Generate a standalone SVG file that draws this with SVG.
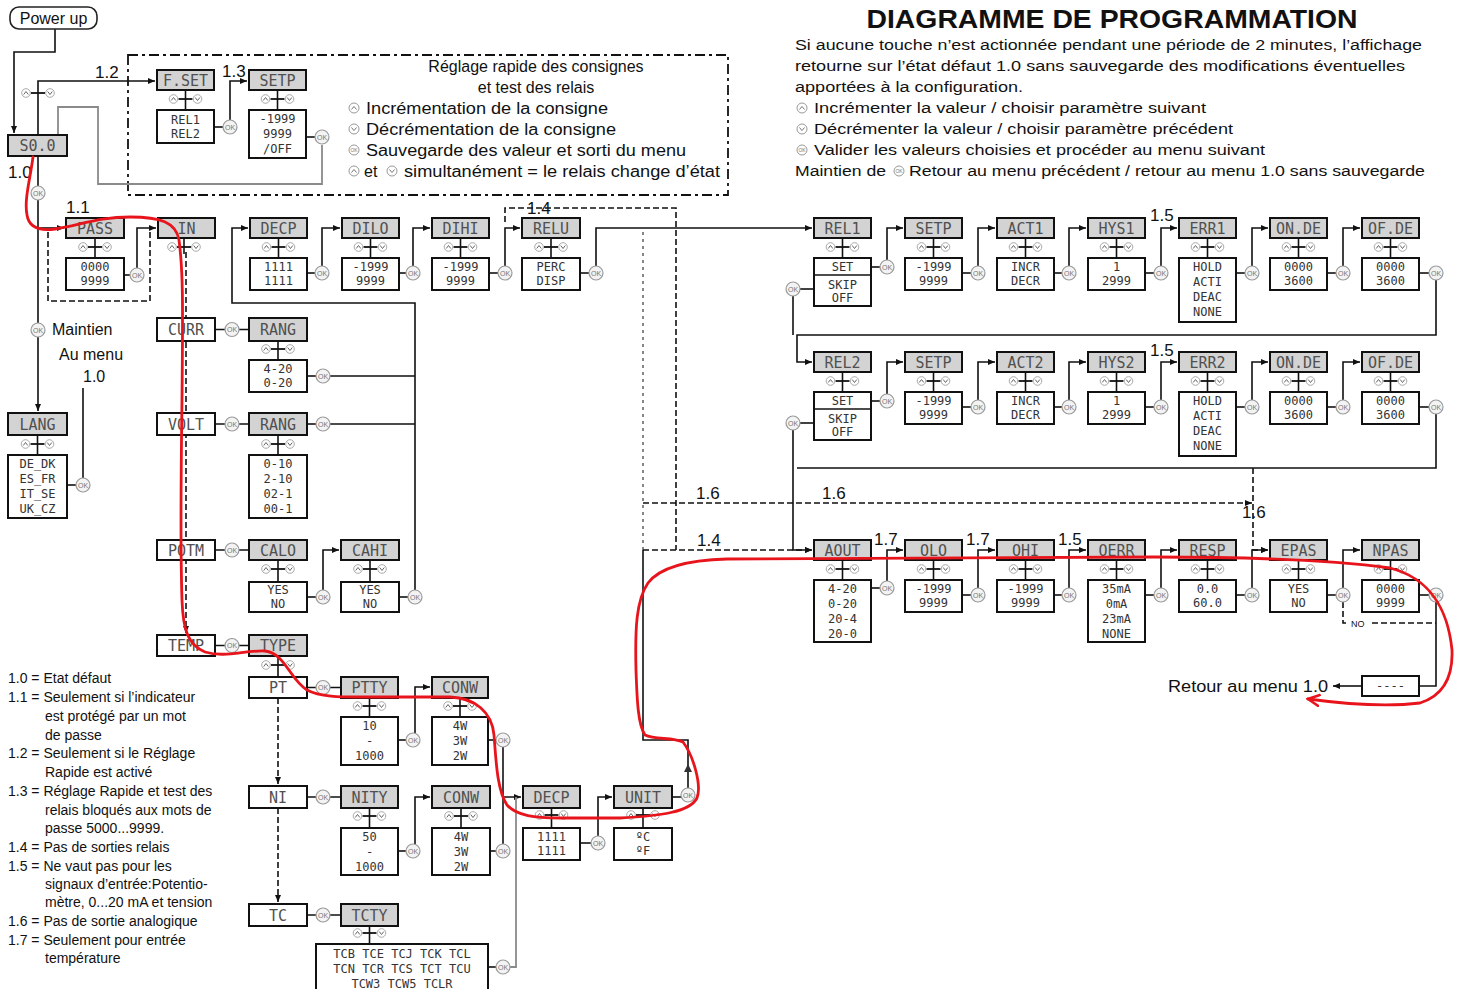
<svg xmlns="http://www.w3.org/2000/svg" xmlns:xlink="http://www.w3.org/1999/xlink" width="1458" height="989" viewBox="0 0 1458 989">
<style>
.h{fill:#d3d3d3;stroke:#111;stroke-width:2}
.v{fill:#fff;stroke:#111;stroke-width:2}
.l{font-family:"DejaVu Sans Mono","Liberation Mono",monospace;font-size:15px;fill:#505050;text-anchor:middle}
.s{font-family:"DejaVu Sans Mono","Liberation Mono",monospace;font-size:12px;fill:#333;text-anchor:middle}
.ln{fill:none;stroke:#111;stroke-width:1.6}
.gl{fill:none;stroke:#8a8a8a;stroke-width:1.8}
.ds{fill:none;stroke:#111;stroke-width:1.6;stroke-dasharray:6 3}
.dd{fill:none;stroke:#111;stroke-width:1.8;stroke-dasharray:10 4 3 4}
.dt{fill:none;stroke:#555;stroke-width:1.4;stroke-dasharray:3 4}
.t{font-family:"Liberation Sans",Arial,sans-serif;fill:#111}
.n{font-family:"Liberation Sans",Arial,sans-serif;font-size:14px;fill:#111}
.lb{font-family:"Liberation Sans",Arial,sans-serif;font-size:17px;fill:#111}
</style>
<defs>
<marker id="a" markerWidth="8" markerHeight="8" refX="7" refY="4" orient="auto" markerUnits="userSpaceOnUse"><path d="M0,1 L7,4 L0,7z" fill="#111"/></marker>
<marker id="ra" markerWidth="14" markerHeight="14" refX="12" refY="7" orient="auto" markerUnits="userSpaceOnUse"><path d="M0,1 L12,7 L0,13" fill="none" stroke="#e8141c" stroke-width="2.6"/></marker>
<g id="ud"><path d="M-7,0 H7" stroke="#111" stroke-width="1.8"/><circle cx="-12" cy="0" r="4.3" fill="#fff" stroke="#aaa" stroke-width="1"/><path d="M-14.3,1.5 L-12,-1.5 L-9.7,1.5" stroke="#666" fill="none" stroke-width="1"/><circle cx="12" cy="0" r="4.3" fill="#fff" stroke="#aaa" stroke-width="1"/><path d="M9.7,-1.5 L12,1.5 L14.3,-1.5" stroke="#666" fill="none" stroke-width="1"/></g>
<g id="ok"><circle r="7" fill="#f3f3f3" stroke="#9a9a9a" stroke-width="1.2"/><text y="2.5" font-size="7" text-anchor="middle" fill="#777" font-family="Liberation Sans,Arial,sans-serif">OK</text></g>
<g id="iu"><circle r="5" fill="#fff" stroke="#999" stroke-width="1"/><path d="M-2.5,1.5 L0,-1.5 L2.5,1.5" stroke="#777" fill="none"/></g>
<g id="id"><circle r="5" fill="#fff" stroke="#999" stroke-width="1"/><path d="M-2.5,-1.5 L0,1.5 L2.5,-1.5" stroke="#777" fill="none"/></g>
<g id="io"><circle r="5" fill="#fff" stroke="#999" stroke-width="1"/><text y="2" font-size="5" text-anchor="middle" fill="#777" font-family="Liberation Sans,Arial,sans-serif">OK</text></g>
</defs>
<rect width="1458" height="989" fill="#fff"/>

<g id="title">
<text class="t" x="1112" y="28" font-size="26" font-weight="bold" text-anchor="middle" textLength="491" lengthAdjust="spacingAndGlyphs">DIAGRAMME DE PROGRAMMATION</text>
<text class="t" x="795" y="50" font-size="15.5" textLength="627" lengthAdjust="spacingAndGlyphs">Si aucune touche n’est actionnée pendant une période de 2 minutes, l’affichage</text>
<text class="t" x="795" y="71" font-size="15.5" textLength="610" lengthAdjust="spacingAndGlyphs">retourne sur l’état défaut 1.0 sans sauvegarde des modifications éventuelles</text>
<text class="t" x="795" y="92" font-size="15.5" textLength="228" lengthAdjust="spacingAndGlyphs">apportées à la configuration.</text>
<use xlink:href="#iu" x="802" y="108"/>
<text class="t" x="814" y="113" font-size="15.5" textLength="392" lengthAdjust="spacingAndGlyphs">Incrémenter la valeur / choisir  paramètre suivant</text>
<use xlink:href="#id" x="802" y="129"/>
<text class="t" x="814" y="134" font-size="15.5" textLength="419" lengthAdjust="spacingAndGlyphs">Décrémenter la valeur / choisir paramètre précédent</text>
<use xlink:href="#io" x="802" y="150"/>
<text class="t" x="814" y="155" font-size="15.5" textLength="451" lengthAdjust="spacingAndGlyphs">Valider les valeurs choisies et procéder au menu suivant</text>
<text class="t" x="795" y="176" font-size="15.5" textLength="91" lengthAdjust="spacingAndGlyphs">Maintien de</text>
<use xlink:href="#io" x="899" y="171"/>
<text class="t" x="909" y="176" font-size="15.5" textLength="516" lengthAdjust="spacingAndGlyphs">Retour au menu précédent / retour au menu 1.0 sans sauvegarde</text>
</g>

<g id="quickbox">
<rect class="dd" x="128" y="55" width="600" height="140"/>
<text class="t" x="536" y="72" font-size="16" text-anchor="middle">Réglage rapide des consignes</text>
<text class="t" x="536" y="93" font-size="16" text-anchor="middle">et test des relais</text>
<use xlink:href="#iu" x="354" y="108"/>
<text class="t" x="366" y="114" font-size="16" textLength="242" lengthAdjust="spacingAndGlyphs">Incrémentation de la consigne</text>
<use xlink:href="#id" x="354" y="129"/>
<text class="t" x="366" y="135" font-size="16" textLength="250" lengthAdjust="spacingAndGlyphs">Décrémentation de la consigne</text>
<use xlink:href="#io" x="354" y="150"/>
<text class="t" x="366" y="156" font-size="16" textLength="320" lengthAdjust="spacingAndGlyphs">Sauvegarde des valeur et sorti du menu</text>
<use xlink:href="#iu" x="354" y="171"/>
<text class="t" x="364" y="177" font-size="16">et</text>
<use xlink:href="#id" x="392" y="171"/>
<text class="t" x="404" y="177" font-size="16" textLength="316" lengthAdjust="spacingAndGlyphs">simultanément = le relais change d’état</text>
</g>

<g id="notes">
<text class="n" x="8" y="683">1.0 = Etat défaut</text>
<text class="n" x="8" y="702">1.1 = Seulement si l’indicateur</text>
<text class="n" x="45" y="721">est protégé par un mot</text>
<text class="n" x="45" y="740">de passe</text>
<text class="n" x="8" y="758">1.2 = Seulement si le Réglage</text>
<text class="n" x="45" y="777">Rapide est activé</text>
<text class="n" x="8" y="796">1.3 = Réglage Rapide et test des</text>
<text class="n" x="45" y="815">relais bloqués aux mots de</text>
<text class="n" x="45" y="833">passe 5000...9999.</text>
<text class="n" x="8" y="852">1.4 = Pas de sorties relais</text>
<text class="n" x="8" y="871">1.5 = Ne vaut pas pour les</text>
<text class="n" x="45" y="889">signaux d’entrée:Potentio-</text>
<text class="n" x="45" y="907">mètre, 0...20 mA et tension</text>
<text class="n" x="8" y="926">1.6 = Pas de sortie analogique</text>
<text class="n" x="8" y="945">1.7 = Seulement pour entrée</text>
<text class="n" x="45" y="963">température</text>
</g>

<g id="connectors">
<path class="ln" d="M55,29 V52 H14 V133" marker-end="url(#a)"/>
<path class="ln" d="M38,135 V81 H155" marker-end="url(#a)"/>
<path class="gl" d="M58,135 V107 H98 V184 H322 V145"/>
<path class="ln" d="M38,156 V186"/>
<path class="ln" d="M230,120 V81 H247" marker-end="url(#a)"/>
<path class="ln" d="M38,200 V323 M38,337 V411" marker-end="url(#a)"/>
<path class="ln" d="M38,228 H64" marker-end="url(#a)"/>
<path class="ds" d="M48,232 V301 H150 V232"/>
<path class="ln" d="M137,268 V228 H156" marker-end="url(#a)"/>
<path class="ds" d="M186,252 V633" marker-end="url(#a)"/>
<path class="ln" d="M415,590 V303 H232 V228 H248" marker-end="url(#a)"/>
<path class="ln" d="M330,376 H415 M330,424 H415"/>
<path class="ln" d="M322,266 V228 H340" marker-end="url(#a)"/>
<path class="ln" d="M413,266 V228 H430" marker-end="url(#a)"/>
<path class="ln" d="M505,266 V228 H520" marker-end="url(#a)"/>
<path class="ln" d="M596,266 V228 H812" marker-end="url(#a)"/>
<path class="ds" d="M505,222 V208 H676 V550"/>
<path class="dt" d="M643,550 V228"/>
<path class="ln" d="M688,788 V740 H643 V550" stroke="#444"/>
<path class="ds" d="M643,550 H812" marker-end="url(#a)"/>
<path class="ds" d="M643,503 H1252" marker-end="url(#a)"/>
<path class="ds" d="M1253,468 V550 H1268" marker-end="url(#a)"/>
<path class="ln" d="M887,260 V228 H903" marker-end="url(#a)"/>
<path class="ln" d="M978,266 V228 H995" marker-end="url(#a)"/>
<path class="ln" d="M1069,266 V228 H1086" marker-end="url(#a)"/>
<path class="ln" d="M1161,266 V228 H1177" marker-end="url(#a)"/>
<path class="ln" d="M1252,266 V228 H1268" marker-end="url(#a)"/>
<path class="ln" d="M1343,266 V228 H1360" marker-end="url(#a)"/>
<path class="ln" d="M1436,280 V335 H797 V362 H812" marker-end="url(#a)"/>
<path class="ln" d="M793,296 V335"/>
<path class="ln" d="M887,394 V362 H903" marker-end="url(#a)"/>
<path class="ln" d="M978,400 V362 H995" marker-end="url(#a)"/>
<path class="ln" d="M1069,400 V362 H1086" marker-end="url(#a)"/>
<path class="ln" d="M1161,400 V362 H1177" marker-end="url(#a)"/>
<path class="ln" d="M1252,400 V362 H1268" marker-end="url(#a)"/>
<path class="ln" d="M1343,400 V362 H1360" marker-end="url(#a)"/>
<path class="ln" d="M1436,414 V468 H797"/>
<path class="ln" d="M793,430 V550 H812" marker-end="url(#a)"/>
<path class="ln" d="M887,581 V550 H903" marker-end="url(#a)"/>
<path class="ln" d="M978,588 V550 H995" marker-end="url(#a)"/>
<path class="ln" d="M1069,588 V550 H1086" marker-end="url(#a)"/>
<path class="ln" d="M1161,588 V550 H1177" marker-end="url(#a)"/>
<path class="ln" d="M1252,588 V550 H1268" marker-end="url(#a)"/>
<path class="ln" d="M1343,588 V550 H1360" marker-end="url(#a)"/>
<path class="ds" d="M1343,602 V623 H1349 M1372,623 H1436"/>
<path class="ln" d="M1436,602 V686 H1420"/>
<path class="ln" d="M1362,686 H1333" marker-end="url(#a)"/>
<path class="ln" d="M323,590 V550 H339" marker-end="url(#a)"/>
<path class="ln" d="M83,478 V388"/>
<path class="ln" d="M415,733 V687 H430" marker-end="url(#a)"/>
<path class="ln" d="M503,747 V797 H521" marker-end="url(#a)"/>
<path class="ds" d="M278,698 V784" marker-end="url(#a)"/>
<path class="ds" d="M278,808 V902" marker-end="url(#a)"/>
<path class="ln" d="M415,844 V797 H430" marker-end="url(#a)"/>
<path class="ln" d="M503,844 V797"/>
<path class="ln" d="M598,836 V797 H612" marker-end="url(#a)"/>
<path class="gl" d="M510,967 H516 V797"/>
<path d="M684,772 L688,764 L692,772z" fill="#333"/>
</g>

<g id="labels">
<text class="lb" x="8" y="178">1.0</text>
<text class="lb" x="95" y="78">1.2</text>
<text class="lb" x="222" y="77">1.3</text>
<text class="lb" x="66" y="213">1.1</text>
<text class="lb" x="527" y="214">1.4</text>
<text class="t" x="52" y="335" font-size="16">Maintien</text>
<text class="t" x="59" y="360" font-size="16">Au menu</text>
<text class="t" x="83" y="382" font-size="16">1.0</text>
<text class="lb" x="1150" y="221">1.5</text>
<text class="lb" x="1150" y="356">1.5</text>
<text class="lb" x="696" y="499">1.6</text>
<text class="lb" x="822" y="499">1.6</text>
<text class="lb" x="1242" y="518">1.6</text>
<text class="lb" x="697" y="546">1.4</text>
<text class="lb" x="874" y="545">1.7</text>
<text class="lb" x="966" y="545">1.7</text>
<text class="lb" x="1058" y="545">1.5</text>
<text class="t" x="1351" y="627" font-size="9">NO</text>
<text class="t" x="1168" y="692" font-size="16" textLength="160" lengthAdjust="spacingAndGlyphs">Retour au menu 1.0</text>
</g>

<g id="powerup"><rect x="10" y="7" width="87" height="22" rx="9" fill="#fff" stroke="#222" stroke-width="1.6"/><text class="t" x="53.5" y="24" font-size="16" text-anchor="middle">Power up</text></g>
<g id="s00"><rect class="h" x="8" y="135" width="59" height="21"/><text class="l" x="37.5" y="151">S0.0</text><use xlink:href="#ud" x="38" y="93"/><use xlink:href="#ok" x="38" y="193"/></g>
<g id="fset"><rect class="h" x="157" y="70" width="57" height="20"/><text class="l" x="185.5" y="85.5">F.SET</text><path class="ln" d="M185.5,90 V110"/><use xlink:href="#ud" x="185.5" y="99"/><rect class="v" x="157" y="110" width="57" height="33"/><text class="s" x="185.5" y="124">REL1</text><text class="s" x="185.5" y="138">REL2</text><path class="ln" d="M214,127 H223"/><use xlink:href="#ok" x="230" y="127"/></g>
<g id="setp0"><rect class="h" x="249" y="70" width="57" height="20"/><text class="l" x="277.5" y="85.5">SETP</text><path class="ln" d="M277.5,90 V110"/><use xlink:href="#ud" x="277.5" y="99"/><rect class="v" x="249" y="110" width="57" height="48"/><text class="s" x="277.5" y="123">-1999</text><text class="s" x="277.5" y="138">9999</text><text class="s" x="277.5" y="153">/OFF</text><path class="ln" d="M306,137 H315"/><use xlink:href="#ok" x="322" y="137"/></g>

<g id="pass"><rect class="h" x="66" y="218" width="58" height="20"/><text class="l" x="95" y="233.5">PASS</text><path class="ln" d="M95,238 V258"/><use xlink:href="#ud" x="95" y="247"/><rect class="v" x="66" y="258" width="58" height="32"/><text class="s" x="95" y="271">0000</text><text class="s" x="95" y="285">9999</text><path class="ln" d="M124,275 H130"/><use xlink:href="#ok" x="137" y="275"/></g>
<g id="in"><rect class="h" x="158" y="218" width="57" height="20"/><text class="l" x="186.5" y="233.5">IN</text><path class="ln" d="M184,238 V254"/><use xlink:href="#ud" x="184" y="247"/></g>
<g id="decp1"><rect class="h" x="250" y="218" width="57" height="20"/><text class="l" x="278.5" y="233.5">DECP</text><path class="ln" d="M278.5,238 V258"/><use xlink:href="#ud" x="278.5" y="247"/><rect class="v" x="250" y="258" width="57" height="32"/><text class="s" x="278.5" y="271">1111</text><text class="s" x="278.5" y="285">1111</text><path class="ln" d="M307,273 H315"/><use xlink:href="#ok" x="322" y="273"/></g>
<g id="dilo"><rect class="h" x="342" y="218" width="57" height="20"/><text class="l" x="370.5" y="233.5">DILO</text><path class="ln" d="M370.5,238 V258"/><use xlink:href="#ud" x="370.5" y="247"/><rect class="v" x="342" y="258" width="57" height="32"/><text class="s" x="370.5" y="271">-1999</text><text class="s" x="370.5" y="285">9999</text><path class="ln" d="M399,273 H406"/><use xlink:href="#ok" x="413" y="273"/></g>
<g id="dihi"><rect class="h" x="432" y="218" width="57" height="20"/><text class="l" x="460.5" y="233.5">DIHI</text><path class="ln" d="M460.5,238 V258"/><use xlink:href="#ud" x="460.5" y="247"/><rect class="v" x="432" y="258" width="57" height="32"/><text class="s" x="460.5" y="271">-1999</text><text class="s" x="460.5" y="285">9999</text><path class="ln" d="M489,273 H498"/><use xlink:href="#ok" x="505" y="273"/></g>
<g id="relu"><rect class="h" x="522" y="218" width="58" height="20"/><text class="l" x="551" y="233.5">RELU</text><path class="ln" d="M551,238 V258"/><use xlink:href="#ud" x="551" y="247"/><rect class="v" x="522" y="258" width="58" height="32"/><text class="s" x="551" y="271">PERC</text><text class="s" x="551" y="285">DISP</text><path class="ln" d="M580,273 H589"/><use xlink:href="#ok" x="596" y="273"/></g>

<g id="lang"><use xlink:href="#ok" x="38" y="330"/><rect class="h" x="8" y="413" width="59" height="22"/><text class="l" x="37.5" y="429.5">LANG</text><path class="ln" d="M37.5,435 V455"/><use xlink:href="#ud" x="37.5" y="444"/><rect class="v" x="8" y="455" width="59" height="63"/><text class="s" x="37.5" y="468">DE_DK</text><text class="s" x="37.5" y="483">ES_FR</text><text class="s" x="37.5" y="498">IT_SE</text><text class="s" x="37.5" y="513">UK_CZ</text><path class="ln" d="M67,485 H76"/><use xlink:href="#ok" x="83" y="485"/></g>

<g id="curr"><rect class="v" x="157" y="318" width="58" height="23"/><text class="l" x="186" y="335">CURR</text><path class="ln" d="M215,329.5 H249"/><use xlink:href="#ok" x="232" y="329.5"/></g>
<g id="rang1"><rect class="h" x="249" y="318" width="58" height="23"/><text class="l" x="278" y="335">RANG</text><path class="ln" d="M278,341 V360"/><use xlink:href="#ud" x="278" y="349"/><rect class="v" x="249" y="360" width="58" height="32"/><text class="s" x="278" y="373">4-20</text><text class="s" x="278" y="387">0-20</text><path class="ln" d="M307,376 H316"/><use xlink:href="#ok" x="323" y="376"/></g>
<g id="volt"><rect class="v" x="157" y="413" width="58" height="22"/><text class="l" x="186" y="429.5">VOLT</text><path class="ln" d="M215,424 H249"/><use xlink:href="#ok" x="232" y="424"/></g>
<g id="rang2"><rect class="h" x="249" y="413" width="58" height="22"/><text class="l" x="278" y="429.5">RANG</text><path class="ln" d="M307,424 H316"/><use xlink:href="#ok" x="323" y="424"/><path class="ln" d="M278,435 V455"/><use xlink:href="#ud" x="278" y="444"/><rect class="v" x="249" y="455" width="58" height="63"/><text class="s" x="278" y="468">0-10</text><text class="s" x="278" y="483">2-10</text><text class="s" x="278" y="498">02-1</text><text class="s" x="278" y="513">00-1</text></g>
<g id="potm"><rect class="v" x="157" y="540" width="58" height="20"/><text class="l" x="186" y="555.5">POTM</text><path class="ln" d="M215,550 H249"/><use xlink:href="#ok" x="232" y="550"/></g>
<g id="calo"><rect class="h" x="249" y="540" width="58" height="20"/><text class="l" x="278" y="555.5">CALO</text><path class="ln" d="M278,560 V582"/><use xlink:href="#ud" x="278" y="569"/><rect class="v" x="249" y="582" width="58" height="30"/><text class="s" x="278" y="594">YES</text><text class="s" x="278" y="608">NO</text><path class="ln" d="M307,597 H316"/><use xlink:href="#ok" x="323" y="597"/></g>
<g id="cahi"><rect class="h" x="341" y="540" width="58" height="20"/><text class="l" x="370" y="555.5">CAHI</text><path class="ln" d="M370,560 V582"/><use xlink:href="#ud" x="370" y="569"/><rect class="v" x="341" y="582" width="58" height="30"/><text class="s" x="370" y="594">YES</text><text class="s" x="370" y="608">NO</text><path class="ln" d="M399,597 H408"/><use xlink:href="#ok" x="415" y="597"/></g>
<g id="temp"><rect class="v" x="157" y="635" width="58" height="21"/><text class="l" x="186" y="651">TEMP</text><path class="ln" d="M215,645.5 H249"/><use xlink:href="#ok" x="232" y="645.5"/></g>
<g id="type"><rect class="h" x="249" y="635" width="58" height="21"/><text class="l" x="278" y="651">TYPE</text><path class="ln" d="M278,656 V677"/><use xlink:href="#ud" x="278" y="665"/></g>
<g id="pt"><rect class="v" x="249" y="677" width="58" height="21"/><text class="l" x="278" y="693">PT</text><path class="ln" d="M307,687.5 H341"/><use xlink:href="#ok" x="323" y="687.5"/></g>
<g id="ptty"><rect class="h" x="341" y="677" width="57" height="21"/><text class="l" x="369.5" y="693">PTTY</text><path class="ln" d="M369.5,698 V717"/><use xlink:href="#ud" x="369.5" y="706"/><rect class="v" x="341" y="717" width="57" height="48"/><text class="s" x="369.5" y="730">10</text><text class="s" x="369.5" y="745">-</text><text class="s" x="369.5" y="760">1000</text><path class="ln" d="M398,740 H406"/><use xlink:href="#ok" x="413" y="740"/></g>
<g id="conw1"><rect class="h" x="432" y="677" width="56" height="21"/><text class="l" x="460" y="693">CONW</text><path class="ln" d="M460,698 V717"/><use xlink:href="#ud" x="460" y="706"/><rect class="v" x="432" y="717" width="56" height="48"/><text class="s" x="460" y="730">4W</text><text class="s" x="460" y="745">3W</text><text class="s" x="460" y="760">2W</text><path class="ln" d="M488,740 H496"/><use xlink:href="#ok" x="503" y="740"/></g>
<g id="ni"><rect class="v" x="249" y="786" width="58" height="22"/><text class="l" x="278" y="802.5">NI</text><path class="ln" d="M307,797 H341"/><use xlink:href="#ok" x="323" y="797"/></g>
<g id="nity"><rect class="h" x="341" y="786" width="57" height="22"/><text class="l" x="369.5" y="802.5">NITY</text><path class="ln" d="M369.5,808 V828"/><use xlink:href="#ud" x="369.5" y="816"/><rect class="v" x="341" y="828" width="57" height="47"/><text class="s" x="369.5" y="841">50</text><text class="s" x="369.5" y="856">-</text><text class="s" x="369.5" y="871">1000</text><path class="ln" d="M398,851 H406"/><use xlink:href="#ok" x="413" y="851"/></g>
<g id="conw2"><rect class="h" x="432" y="786" width="58" height="22"/><text class="l" x="461" y="802.5">CONW</text><path class="ln" d="M461,808 V828"/><use xlink:href="#ud" x="461" y="816"/><rect class="v" x="432" y="828" width="58" height="47"/><text class="s" x="461" y="841">4W</text><text class="s" x="461" y="856">3W</text><text class="s" x="461" y="871">2W</text><path class="ln" d="M490,851 H496"/><use xlink:href="#ok" x="503" y="851"/></g>
<g id="decp2"><rect class="h" x="523" y="786" width="57" height="22"/><text class="l" x="551.5" y="802.5">DECP</text><path class="ln" d="M551.5,808 V828"/><use xlink:href="#ud" x="551.5" y="815"/><rect class="v" x="523" y="828" width="57" height="32"/><text class="s" x="551.5" y="841">1111</text><text class="s" x="551.5" y="855">1111</text><path class="ln" d="M580,843 H591"/><use xlink:href="#ok" x="598" y="843"/></g>
<g id="unit"><rect class="h" x="614" y="786" width="58" height="22"/><text class="l" x="643" y="802.5">UNIT</text><path class="ln" d="M643,808 V828"/><use xlink:href="#ud" x="643" y="815"/><rect class="v" x="614" y="828" width="58" height="32"/><text class="s" x="643" y="841">ºC</text><text class="s" x="643" y="855">ºF</text><path class="ln" d="M672,797 H681"/><use xlink:href="#ok" x="688" y="795"/></g>
<g id="tc"><rect class="v" x="249" y="904" width="58" height="22"/><text class="l" x="278" y="920.5">TC</text><path class="ln" d="M307,915 H341"/><use xlink:href="#ok" x="323" y="915"/></g>
<g id="tcty"><rect class="h" x="341" y="904" width="57" height="22"/><text class="l" x="369.5" y="920.5">TCTY</text><path class="ln" d="M369.5,926 V944"/><use xlink:href="#ud" x="369.5" y="933"/><rect class="v" x="316" y="944" width="172" height="52"/><text class="s" x="402" y="958">TCB TCE TCJ TCK TCL</text><text class="s" x="402" y="973">TCN TCR TCS TCT TCU</text><text class="s" x="402" y="988">TCW3 TCW5 TCLR</text><path class="ln" d="M488,967 H496"/><use xlink:href="#ok" x="503" y="967"/></g>

<g id="rel1"><rect class="h" x="814" y="218" width="57" height="20"/><text class="l" x="842.5" y="233.5">REL1</text><path class="ln" d="M842.5,238 V258"/><use xlink:href="#ud" x="842.5" y="247"/><rect class="v" x="814" y="258" width="57" height="48"/><path class="ln" d="M814,275 H871"/><text class="s" x="842.5" y="271">SET</text><text class="s" x="842.5" y="289">SKIP</text><text class="s" x="842.5" y="302">OFF</text><path class="ln" d="M871,267 H880"/><use xlink:href="#ok" x="887" y="267"/><path class="ln" d="M814,289 H800"/><use xlink:href="#ok" x="793" y="289"/></g>
<g id="setp1"><rect class="h" x="905" y="218" width="57" height="20"/><text class="l" x="933.5" y="233.5">SETP</text><path class="ln" d="M933.5,238 V258"/><use xlink:href="#ud" x="933.5" y="247"/><rect class="v" x="905" y="258" width="57" height="32"/><text class="s" x="933.5" y="271">-1999</text><text class="s" x="933.5" y="285">9999</text><path class="ln" d="M962,273 H971"/><use xlink:href="#ok" x="978" y="273"/></g>
<g id="act1"><rect class="h" x="997" y="218" width="57" height="20"/><text class="l" x="1025.5" y="233.5">ACT1</text><path class="ln" d="M1025.5,238 V258"/><use xlink:href="#ud" x="1025.5" y="247"/><rect class="v" x="997" y="258" width="57" height="32"/><text class="s" x="1025.5" y="271">INCR</text><text class="s" x="1025.5" y="285">DECR</text><path class="ln" d="M1054,273 H1062"/><use xlink:href="#ok" x="1069" y="273"/></g>
<g id="hys1"><rect class="h" x="1088" y="218" width="57" height="20"/><text class="l" x="1116.5" y="233.5">HYS1</text><path class="ln" d="M1116.5,238 V258"/><use xlink:href="#ud" x="1116.5" y="247"/><rect class="v" x="1088" y="258" width="57" height="32"/><text class="s" x="1116.5" y="271">1</text><text class="s" x="1116.5" y="285">2999</text><path class="ln" d="M1145,273 H1154"/><use xlink:href="#ok" x="1161" y="273"/></g>
<g id="err1"><rect class="h" x="1179" y="218" width="57" height="20"/><text class="l" x="1207.5" y="233.5">ERR1</text><path class="ln" d="M1207.5,238 V258"/><use xlink:href="#ud" x="1207.5" y="247"/><rect class="v" x="1179" y="258" width="57" height="64"/><text class="s" x="1207.5" y="271">HOLD</text><text class="s" x="1207.5" y="286">ACTI</text><text class="s" x="1207.5" y="301">DEAC</text><text class="s" x="1207.5" y="316">NONE</text><path class="ln" d="M1236,273 H1245"/><use xlink:href="#ok" x="1252" y="273"/></g>
<g id="onde1"><rect class="h" x="1270" y="218" width="57" height="20"/><text class="l" x="1298.5" y="233.5">ON.DE</text><path class="ln" d="M1298.5,238 V258"/><use xlink:href="#ud" x="1298.5" y="247"/><rect class="v" x="1270" y="258" width="57" height="32"/><text class="s" x="1298.5" y="271">0000</text><text class="s" x="1298.5" y="285">3600</text><path class="ln" d="M1327,273 H1336"/><use xlink:href="#ok" x="1343" y="273"/></g>
<g id="ofde1"><rect class="h" x="1362" y="218" width="57" height="20"/><text class="l" x="1390.5" y="233.5">OF.DE</text><path class="ln" d="M1390.5,238 V258"/><use xlink:href="#ud" x="1390.5" y="247"/><rect class="v" x="1362" y="258" width="57" height="32"/><text class="s" x="1390.5" y="271">0000</text><text class="s" x="1390.5" y="285">3600</text><path class="ln" d="M1419,273 H1429"/><use xlink:href="#ok" x="1436" y="273"/></g>

<g id="rel2"><rect class="h" x="814" y="352" width="57" height="20"/><text class="l" x="842.5" y="367.5">REL2</text><path class="ln" d="M842.5,372 V392"/><use xlink:href="#ud" x="842.5" y="381"/><rect class="v" x="814" y="392" width="57" height="48"/><path class="ln" d="M814,409 H871"/><text class="s" x="842.5" y="405">SET</text><text class="s" x="842.5" y="423">SKIP</text><text class="s" x="842.5" y="436">OFF</text><path class="ln" d="M871,401 H880"/><use xlink:href="#ok" x="887" y="401"/><path class="ln" d="M814,423 H800"/><use xlink:href="#ok" x="793" y="423"/></g>
<g id="setp2"><rect class="h" x="905" y="352" width="57" height="20"/><text class="l" x="933.5" y="367.5">SETP</text><path class="ln" d="M933.5,372 V392"/><use xlink:href="#ud" x="933.5" y="381"/><rect class="v" x="905" y="392" width="57" height="32"/><text class="s" x="933.5" y="405">-1999</text><text class="s" x="933.5" y="419">9999</text><path class="ln" d="M962,407 H971"/><use xlink:href="#ok" x="978" y="407"/></g>
<g id="act2"><rect class="h" x="997" y="352" width="57" height="20"/><text class="l" x="1025.5" y="367.5">ACT2</text><path class="ln" d="M1025.5,372 V392"/><use xlink:href="#ud" x="1025.5" y="381"/><rect class="v" x="997" y="392" width="57" height="32"/><text class="s" x="1025.5" y="405">INCR</text><text class="s" x="1025.5" y="419">DECR</text><path class="ln" d="M1054,407 H1062"/><use xlink:href="#ok" x="1069" y="407"/></g>
<g id="hys2"><rect class="h" x="1088" y="352" width="57" height="20"/><text class="l" x="1116.5" y="367.5">HYS2</text><path class="ln" d="M1116.5,372 V392"/><use xlink:href="#ud" x="1116.5" y="381"/><rect class="v" x="1088" y="392" width="57" height="32"/><text class="s" x="1116.5" y="405">1</text><text class="s" x="1116.5" y="419">2999</text><path class="ln" d="M1145,407 H1154"/><use xlink:href="#ok" x="1161" y="407"/></g>
<g id="err2"><rect class="h" x="1179" y="352" width="57" height="20"/><text class="l" x="1207.5" y="367.5">ERR2</text><path class="ln" d="M1207.5,372 V392"/><use xlink:href="#ud" x="1207.5" y="381"/><rect class="v" x="1179" y="392" width="57" height="64"/><text class="s" x="1207.5" y="405">HOLD</text><text class="s" x="1207.5" y="420">ACTI</text><text class="s" x="1207.5" y="435">DEAC</text><text class="s" x="1207.5" y="450">NONE</text><path class="ln" d="M1236,407 H1245"/><use xlink:href="#ok" x="1252" y="407"/></g>
<g id="onde2"><rect class="h" x="1270" y="352" width="57" height="20"/><text class="l" x="1298.5" y="367.5">ON.DE</text><path class="ln" d="M1298.5,372 V392"/><use xlink:href="#ud" x="1298.5" y="381"/><rect class="v" x="1270" y="392" width="57" height="32"/><text class="s" x="1298.5" y="405">0000</text><text class="s" x="1298.5" y="419">3600</text><path class="ln" d="M1327,407 H1336"/><use xlink:href="#ok" x="1343" y="407"/></g>
<g id="ofde2"><rect class="h" x="1362" y="352" width="57" height="20"/><text class="l" x="1390.5" y="367.5">OF.DE</text><path class="ln" d="M1390.5,372 V392"/><use xlink:href="#ud" x="1390.5" y="381"/><rect class="v" x="1362" y="392" width="57" height="32"/><text class="s" x="1390.5" y="405">0000</text><text class="s" x="1390.5" y="419">3600</text><path class="ln" d="M1419,407 H1429"/><use xlink:href="#ok" x="1436" y="407"/></g>

<g id="aout"><rect class="h" x="814" y="540" width="57" height="20"/><text class="l" x="842.5" y="555.5">AOUT</text><path class="ln" d="M842.5,560 V580"/><use xlink:href="#ud" x="842.5" y="569"/><rect class="v" x="814" y="580" width="57" height="62"/><text class="s" x="842.5" y="593">4-20</text><text class="s" x="842.5" y="608">0-20</text><text class="s" x="842.5" y="623">20-4</text><text class="s" x="842.5" y="638">20-0</text><path class="ln" d="M871,588 H880"/><use xlink:href="#ok" x="887" y="588"/></g>
<g id="olo"><rect class="h" x="905" y="540" width="57" height="20"/><text class="l" x="933.5" y="555.5">OLO</text><path class="ln" d="M933.5,560 V580"/><use xlink:href="#ud" x="933.5" y="569"/><rect class="v" x="905" y="580" width="57" height="32"/><text class="s" x="933.5" y="593">-1999</text><text class="s" x="933.5" y="607">9999</text><path class="ln" d="M962,595 H971"/><use xlink:href="#ok" x="978" y="595"/></g>
<g id="ohi"><rect class="h" x="997" y="540" width="57" height="20"/><text class="l" x="1025.5" y="555.5">OHI</text><path class="ln" d="M1025.5,560 V580"/><use xlink:href="#ud" x="1025.5" y="569"/><rect class="v" x="997" y="580" width="57" height="32"/><text class="s" x="1025.5" y="593">-1999</text><text class="s" x="1025.5" y="607">9999</text><path class="ln" d="M1054,595 H1062"/><use xlink:href="#ok" x="1069" y="595"/></g>
<g id="oerr"><rect class="h" x="1088" y="540" width="57" height="20"/><text class="l" x="1116.5" y="555.5">OERR</text><path class="ln" d="M1116.5,560 V580"/><use xlink:href="#ud" x="1116.5" y="569"/><rect class="v" x="1088" y="580" width="57" height="62"/><text class="s" x="1116.5" y="593">35mA</text><text class="s" x="1116.5" y="608">0mA</text><text class="s" x="1116.5" y="623">23mA</text><text class="s" x="1116.5" y="638">NONE</text><path class="ln" d="M1145,595 H1154"/><use xlink:href="#ok" x="1161" y="595"/></g>
<g id="resp"><rect class="h" x="1179" y="540" width="57" height="20"/><text class="l" x="1207.5" y="555.5">RESP</text><path class="ln" d="M1207.5,560 V580"/><use xlink:href="#ud" x="1207.5" y="569"/><rect class="v" x="1179" y="580" width="57" height="32"/><text class="s" x="1207.5" y="593">0.0</text><text class="s" x="1207.5" y="607">60.0</text><path class="ln" d="M1236,595 H1245"/><use xlink:href="#ok" x="1252" y="595"/></g>
<g id="epas"><rect class="h" x="1270" y="540" width="57" height="20"/><text class="l" x="1298.5" y="555.5">EPAS</text><path class="ln" d="M1298.5,560 V580"/><use xlink:href="#ud" x="1298.5" y="569"/><rect class="v" x="1270" y="580" width="57" height="32"/><text class="s" x="1298.5" y="593">YES</text><text class="s" x="1298.5" y="607">NO</text><path class="ln" d="M1327,595 H1336"/><use xlink:href="#ok" x="1343" y="595"/></g>
<g id="npas"><rect class="h" x="1362" y="540" width="57" height="20"/><text class="l" x="1390.5" y="555.5">NPAS</text><path class="ln" d="M1390.5,560 V580"/><use xlink:href="#ud" x="1390.5" y="569"/><rect class="v" x="1362" y="580" width="57" height="32"/><text class="s" x="1390.5" y="593">0000</text><text class="s" x="1390.5" y="607">9999</text><path class="ln" d="M1419,595 H1429"/><use xlink:href="#ok" x="1436" y="595"/></g>
<g id="dashes"><rect class="v" x="1362" y="676" width="57" height="20"/><text class="s" x="1390.5" y="690">----</text></g>

<g id="redpath">
<path fill="none" stroke="#e8141c" stroke-width="2.8" stroke-linecap="round" marker-end="url(#ra)" d="M33,157 C30,180 24,200 27,215 C29,228 40,231 55,229 C80,225 100,217 130,217 C160,217 176,222 179,240 C183,270 183,300 182,400 C181,480 180,540 182,600 C183,630 188,645 205,652 C225,658 245,650 265,651 C285,653 290,680 307,690 C320,697 340,697 360,697 L450,697 C475,698 492,712 494,735 C496,760 497,790 507,805 C517,816 535,818 560,818 L620,818 C660,816 690,812 697,798 C702,785 693,755 683,742 C672,737 655,740 645,735 C638,725 637,700 636,670 C635,630 636,600 648,583 C660,567 690,560 727,559 L1155,557 C1250,557 1330,560 1390,568 C1430,578 1448,610 1452,650 C1453,675 1445,695 1420,703 C1395,706 1360,706 1308,699"/>
</g>
</svg>
